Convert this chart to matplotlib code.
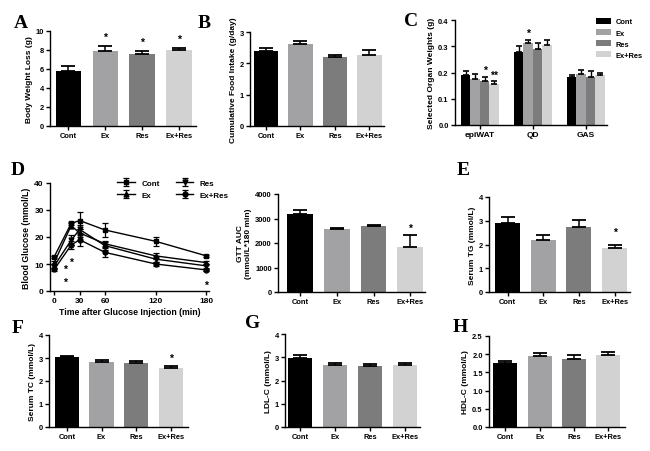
import numpy as np
import matplotlib
matplotlib.use('Agg')
import matplotlib.pyplot as plt

plt.rcParams['font.family'] = ['Liberation Sans', 'DejaVu Sans']
plt.rcParams['font.weight'] = 'bold'
plt.rcParams['axes.labelweight'] = 'bold'

# Groups and colours
groups = ['Cont', 'Ex', 'Res', 'Ex+Res']
colors = ['#000000', '#a2a2a5', '#7c7c7c', '#d2d2d2']

# A - body weight loss
weight_loss = [5.75, 7.85, 7.6, 7.95]
weight_loss_err = [0.55, 0.55, 0.3, 0.3]
weight_loss_sig = ['', '*', '*', '*']

# B - food intake
food_intake = [2.4, 2.62, 2.2, 2.27]
food_intake_err = [0.1, 0.08, 0.08, 0.15]

# C - organ weights
organs = ['epiWAT', 'QD', 'GAS']
organ_cont = [0.192, 0.28, 0.184]
organ_ex = [0.176, 0.312, 0.195]
organ_res = [0.167, 0.29, 0.184]
organ_exres = [0.156, 0.303, 0.192]
organ_cont_err = [0.013, 0.02, 0.005]
organ_ex_err = [0.02, 0.013, 0.014]
organ_res_err = [0.017, 0.022, 0.021]
organ_exres_err = [0.01, 0.022, 0.007]
organ_sig = {(0, 2): '*', (0, 3): '**', (1, 1): '*'}

# D - glucose tolerance test
times = [0, 20, 30, 60, 120, 180]
gluc_cont = [12.7, 25.0, 26.1, 22.6, 18.4, 13.0]
gluc_cont_err = [0.4, 0.6, 3.0, 2.7, 1.6, 0.5]
gluc_ex = [10.5, 24.2, 21.5, 17.5, 13.0, 10.5]
gluc_ex_err = [0.5, 1.0, 1.5, 1.2, 1.0, 0.6]
gluc_res = [9.3, 18.8, 22.8, 16.8, 11.8, 9.3]
gluc_res_err = [0.6, 1.8, 1.8, 1.5, 1.0, 0.8]
gluc_exres = [8.0, 17.0, 19.0, 14.3, 10.0, 7.8]
gluc_exres_err = [0.6, 1.5, 2.5, 1.8, 0.8, 0.5]

# GTT AUC
gtt_auc = [3180, 2590, 2700, 1850]
gtt_auc_err = [180, 40, 20, 470]
gtt_auc_sig = ['', '', '', '*']

# E - serum TG
serum_tg = [2.9, 2.18, 2.72, 1.87]
serum_tg_err = [0.25, 0.22, 0.3, 0.1]
serum_tg_sig = ['', '', '', '*']

# F - serum TC
serum_tc = [3.03, 2.83, 2.78, 2.58]
serum_tc_err = [0.04, 0.08, 0.08, 0.08]
serum_tc_sig = ['', '', '', '*']

# G - LDL-C
ldl = [2.98, 2.67, 2.63, 2.65]
ldl_err = [0.1, 0.07, 0.08, 0.12]

# H - HDL-C
hdl = [1.75, 1.95, 1.88, 1.99]
hdl_err = [0.05, 0.07, 0.1, 0.08]

W, H = 650, 452
fig = plt.figure(figsize=(W / 100, H / 100), dpi=100)


def box(left, top, right, bottom):
    return [left / W, 1 - bottom / H, (right - left) / W, (bottom - top) / H]


def style(ax):
    for s in ['top', 'right']:
        ax.spines[s].set_visible(False)
    ax.spines['left'].set_linewidth(1.0)
    ax.spines['bottom'].set_linewidth(1.0)
    ax.tick_params(direction='out', length=3, width=1.0, labelsize=5.4, pad=1.5)


def letter(x, y, s):
    fig.text(x / W, 1 - y / H, s, fontsize=14, fontweight='bold',
             family=['Liberation Serif', 'DejaVu Serif'], va='baseline')


def bar_panel(b, vals, errs, ylim, yticks, ylabel, sig=None, star_off=4, xlim=(-0.5, 3.45)):
    ax = fig.add_axes(box(*b))
    x = np.arange(len(groups))
    ax.bar(x, vals, width=0.7, color=colors)
    ax.errorbar(x, vals, yerr=[np.zeros(len(vals)), errs], fmt='none', ecolor='black',
                elinewidth=1.1, capsize=5.2, capthick=1.3)
    if sig:
        for i, s in enumerate(sig):
            if s:
                ax.annotate(s, (x[i], vals[i] + errs[i]), xytext=(0, star_off),
                            textcoords='offset points', ha='center', va='bottom', fontsize=7.5)
    ax.set_xticks(x)
    ax.set_xticklabels(groups)
    ax.set_xlim(*xlim)
    ax.set_ylim(*ylim)
    ax.set_yticks(yticks)
    ax.set_ylabel(ylabel, fontsize=6, labelpad=2)
    style(ax)
    return ax


# A
bar_panel((50, 32, 196, 127), weight_loss, weight_loss_err, (0, 10), [0, 2, 4, 6, 8, 10],
          'Body Weight Loss (g)', weight_loss_sig, star_off=3)
letter(14, 28, 'A')

# B
bar_panel((250, 33, 384, 127), food_intake, food_intake_err, (0, 3), [0, 1, 2, 3],
          'Cumulative Food Intake (g/day)', xlim=(-0.46, 3.42))
letter(198, 28, 'B')

# C
axc = fig.add_axes(box(455, 21, 607, 126))
xg = np.arange(len(organs))
bw = 0.18
series = [organ_cont, organ_ex, organ_res, organ_exres]
series_err = [organ_cont_err, organ_ex_err, organ_res_err, organ_exres_err]
for k in range(4):
    xs = xg + (k - 1.5) * bw
    axc.bar(xs, series[k], width=bw, color=colors[k], label=groups[k])
    axc.errorbar(xs, series[k], yerr=[np.zeros(3), series_err[k]], fmt='none', ecolor='black',
                 elinewidth=1.0, capsize=2, capthick=1.2)
for (g, k), s in organ_sig.items():
    axc.annotate(s, (xg[g] + (k - 1.5) * bw, series[k][g] + series_err[k][g]), xytext=(0, 1),
                 textcoords='offset points', ha='center', va='bottom', fontsize=7.5)
axc.set_xticks(xg)
axc.set_xticklabels(organs, fontsize=6)
axc.set_xlim(-0.47, 2.4)
axc.set_ylim(0, 0.4)
axc.set_yticks([0, 0.1, 0.2, 0.3, 0.4])
axc.set_ylabel('Selected Organ Weights (g)', fontsize=6, labelpad=2)
style(axc)
axc.tick_params(axis='x', labelsize=6)
fig.legend(loc='upper left', bbox_to_anchor=(592 / W, 1 - 15 / H), frameon=False, fontsize=5.4,
           handlelength=2.0, handleheight=0.9, labelspacing=0.45, handletextpad=0.6, borderpad=0)
letter(404, 26, 'C')

# D
axd = fig.add_axes(box(50, 184, 209, 292))
gl = [gluc_cont, gluc_ex, gluc_res, gluc_exres]
gl_err = [gluc_cont_err, gluc_ex_err, gluc_res_err, gluc_exres_err]
markers = ['s', '^', 'v', 'o']
for k in range(4):
    axd.errorbar(times, gl[k], yerr=gl_err[k], color='black', marker=markers[k], markersize=3.5,
                 linewidth=1.0, elinewidth=0.9, capsize=2.2, capthick=0.9, label=groups[k])
star_kw = dict(textcoords='offset points', ha='center', va='center', fontsize=7.5)
axd.annotate('*', (times[0], gluc_res[0]), xytext=(8, -2), **star_kw)
axd.annotate('*', (times[0], gluc_exres[0]), xytext=(8, -9), **star_kw)
axd.annotate('*', (times[1], gluc_exres[1]), xytext=(0, -12), **star_kw)
axd.annotate('*', (times[5], gluc_exres[5]), xytext=(0, -11), **star_kw)
axd.set_xlim(-5, 183)
axd.set_ylim(0, 40)
axd.set_xticks([0, 30, 60, 120, 180])
axd.set_yticks([0, 10, 20, 30, 40])
axd.set_xlabel('Time after Glucose Injection (min)', fontsize=6.3, labelpad=2)
axd.set_ylabel('Blood Glucose (mmol/L)', fontsize=6.3, labelpad=2)
style(axd)
axd.tick_params(labelsize=6)
axd.legend(loc='upper left', bbox_to_anchor=(113 / W, 1 - 176 / H), bbox_transform=fig.transFigure,
           ncol=2, frameon=False, fontsize=5.8, handlelength=2.2, columnspacing=2.0,
           labelspacing=0.6, handletextpad=0.8, borderpad=0)
letter(11, 175, 'D')

# GTT AUC
bar_panel((278, 195, 425, 293), gtt_auc, gtt_auc_err, (0, 4000), [0, 1000, 2000, 3000, 4000],
          'GTT AUC\n(mmol/L*180 min)', gtt_auc_sig, star_off=2, xlim=(-0.6, 3.4))

# E
bar_panel((489, 198, 630, 293), serum_tg, serum_tg_err, (0, 4), [0, 1, 2, 3, 4],
          'Serum TG (mmol/L)', serum_tg_sig, star_off=6, xlim=(-0.52, 3.43))
letter(457, 175, 'E')

# F
bar_panel((49, 336, 188, 428), serum_tc, serum_tc_err, (0, 4), [0, 1, 2, 3, 4],
          'Serum TC (mmol/L)', serum_tc_sig, star_off=2, xlim=(-0.52, 3.5))
letter(12, 333, 'F')

# G
bar_panel((285, 335, 420, 428), ldl, ldl_err, (0, 4), [0, 1, 2, 3, 4],
          'LDL-C (mmol/L)', xlim=(-0.43, 3.43))
letter(245, 328, 'G')

# H
bar_panel((489, 337, 625, 428), hdl, hdl_err, (0, 2.5), [0, 0.5, 1.0, 1.5, 2.0, 2.5],
          'HDL-C (mmol/L)', xlim=(-0.48, 3.49))
letter(453, 332, 'H')

fig.savefig('out.png', dpi=100)
